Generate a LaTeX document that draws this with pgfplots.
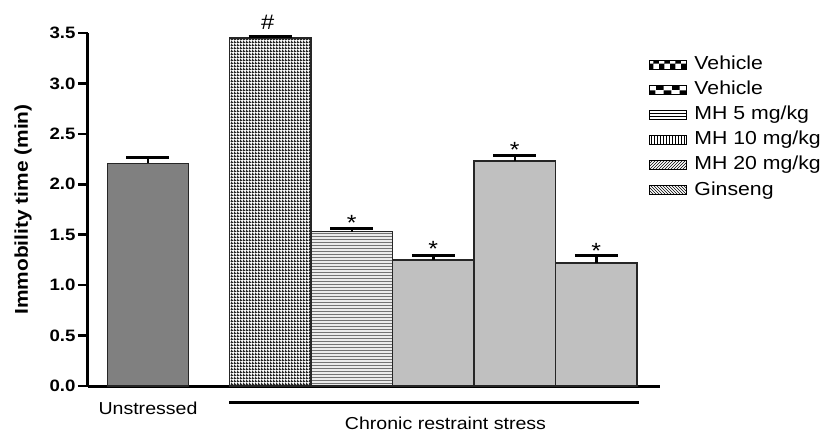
\documentclass[border=0pt]{standalone}
\usepackage{pgfplots}
\pgfplotsset{compat=1.18}
\usepackage{fontspec}
\setmainfont{Liberation Sans}[FakeStretch=1.13]
\usetikzlibrary{patterns}

% fine dotted grid of the Vehicle bar
\pgfdeclarepatternformonly{finegrid}{\pgfpointorigin}{\pgfqpoint{3pt}{3pt}}{\pgfqpoint{3pt}{3pt}}{%
  \pgfpathrectangle{\pgfpointorigin}{\pgfqpoint{3pt}{1.6pt}}%
  \pgfpathrectangle{\pgfpointorigin}{\pgfqpoint{1.4pt}{3pt}}%
  \pgfusepath{fill}}
% coarse checkerboard for the second legend patch
\pgfdeclarepatternformonly{bigchecker}{\pgfpointorigin}{\pgfqpoint{16pt}{9pt}}{\pgfqpoint{16pt}{9pt}}{%
  \pgfpathrectangle{\pgfpointorigin}{\pgfqpoint{8pt}{4.5pt}}%
  \pgfpathrectangle{\pgfqpoint{8pt}{4.5pt}}{\pgfqpoint{8pt}{4.5pt}}%
  \pgfusepath{fill}}

\definecolor{darkbar}{RGB}{128,128,128}
\definecolor{lightbar}{RGB}{192,192,192}

\pgfplotsset{
  bar/.style={ybar, bar width=1, bar shift=0pt, forget plot,
    draw=black!85, line width=1.2pt,
    error bars/y dir=plus, error bars/y explicit,
    error bars/error mark=|,
    error bars/error bar style={line width=2.5pt, black},
    error bars/error mark options={line width=3pt, mark size=21.5pt, black}},
  patch/.style={draw=black, line width=0.8pt, pattern=#1},
}

\begin{document}
\begin{tikzpicture}
\useasboundingbox (-88pt,-46pt) rectangle (737pt,386pt);
\begin{axis}[
  at={(0,0)}, anchor=south west, scale only axis,
  width=572pt, height=353pt,
  xmin=-0.736, xmax=6.282, ymin=0, ymax=3.5,
  clip=false,
  axis lines=left,
  axis line style={-, line width=3pt},
  xtick=\empty,
  ytick={0,0.5,1,1.5,2,2.5,3,3.5},
  tick align=outside,
  major tick length=10pt,
  tick style={line width=2.5pt, black},
  yticklabel style={font=\bfseries\fontsize{16.5}{18}\selectfont, xshift=1pt,
    /pgf/number format/.cd, fixed, fixed zerofill, precision=1, assume math mode=true},
  ylabel={\bfseries Immobility time (min)},
  ylabel style={at={(axis description cs:-0.1136,0.5)}, anchor=center,
    font=\fontsize{18.5}{20}\selectfont},
  legend style={at={(axis description cs:1.2832,0.938)}, anchor=north east,
    draw=none, fill=none, inner sep=0pt, row sep=5.6pt,
    nodes={inner sep=1pt, text height=13.5pt, text depth=4pt},
    font=\fontsize{18.8}{21}\selectfont, cells={anchor=west},
    /tikz/every odd column/.append style={column sep=7pt}},
  legend image code/.code={\draw[#1] (0pt,-4.5pt) rectangle (37pt,4.5pt);},
]
% bars
\addplot[bar, fill=darkbar] coordinates {(0,2.21) +- (0,0.06)};
\addplot[bar, fill=white, postaction={pattern=finegrid, pattern color=black!85}]
  coordinates {(1.5,3.45) +- (0,0.02)};
\addplot[bar, fill=black!8, postaction={pattern=horizontal lines, pattern color=black!55}]
  coordinates {(2.5,1.53) +- (0,0.03)};
\addplot[bar, fill=lightbar] coordinates {(3.5,1.25) +- (0,0.04)};
\addplot[bar, fill=lightbar] coordinates {(4.5,2.23) +- (0,0.06)};
\addplot[bar, fill=lightbar] coordinates {(5.5,1.22) +- (0,0.07)};

% legend
\addlegendimage{patch=checkerboard}
\addlegendentry{Vehicle}
\addlegendimage{patch=bigchecker}
\addlegendentry{Vehicle}
\addlegendimage{patch=horizontal lines}
\addlegendentry{MH 5 mg/kg}
\addlegendimage{patch=vertical lines}
\addlegendentry{MH 10 mg/kg}
\addlegendimage{patch=north east lines}
\addlegendentry{MH 20 mg/kg}
\addlegendimage{patch=north west lines}
\addlegendentry{Ginseng}

% significance marks
\node[anchor=base, font=\fontsize{21}{22}\selectfont] at (axis cs:1.47,3.53) {\#};
\node[anchor=base, font=\fontsize{22}{22}\selectfont] at (axis cs:2.5,1.544) {*};
\node[anchor=base, font=\fontsize{22}{22}\selectfont] at (axis cs:3.5,1.282) {*};
\node[anchor=base, font=\fontsize{22}{22}\selectfont] at (axis cs:4.5,2.264) {*};
\node[anchor=base, font=\fontsize{22}{22}\selectfont] at (axis cs:5.5,1.269) {*};

% group labels
\node[anchor=base, font=\fontsize{17.3}{19}\selectfont] at (axis cs:0,-0.278) {Unstressed};
\draw[line width=3pt] (axis cs:1.0,-0.159) -- (axis cs:6.02,-0.159);
\node[anchor=base, font=\fontsize{17.3}{19}\selectfont] at (axis cs:3.65,-0.43) {Chronic restraint stress};
\end{axis}
\end{tikzpicture}
\end{document}
